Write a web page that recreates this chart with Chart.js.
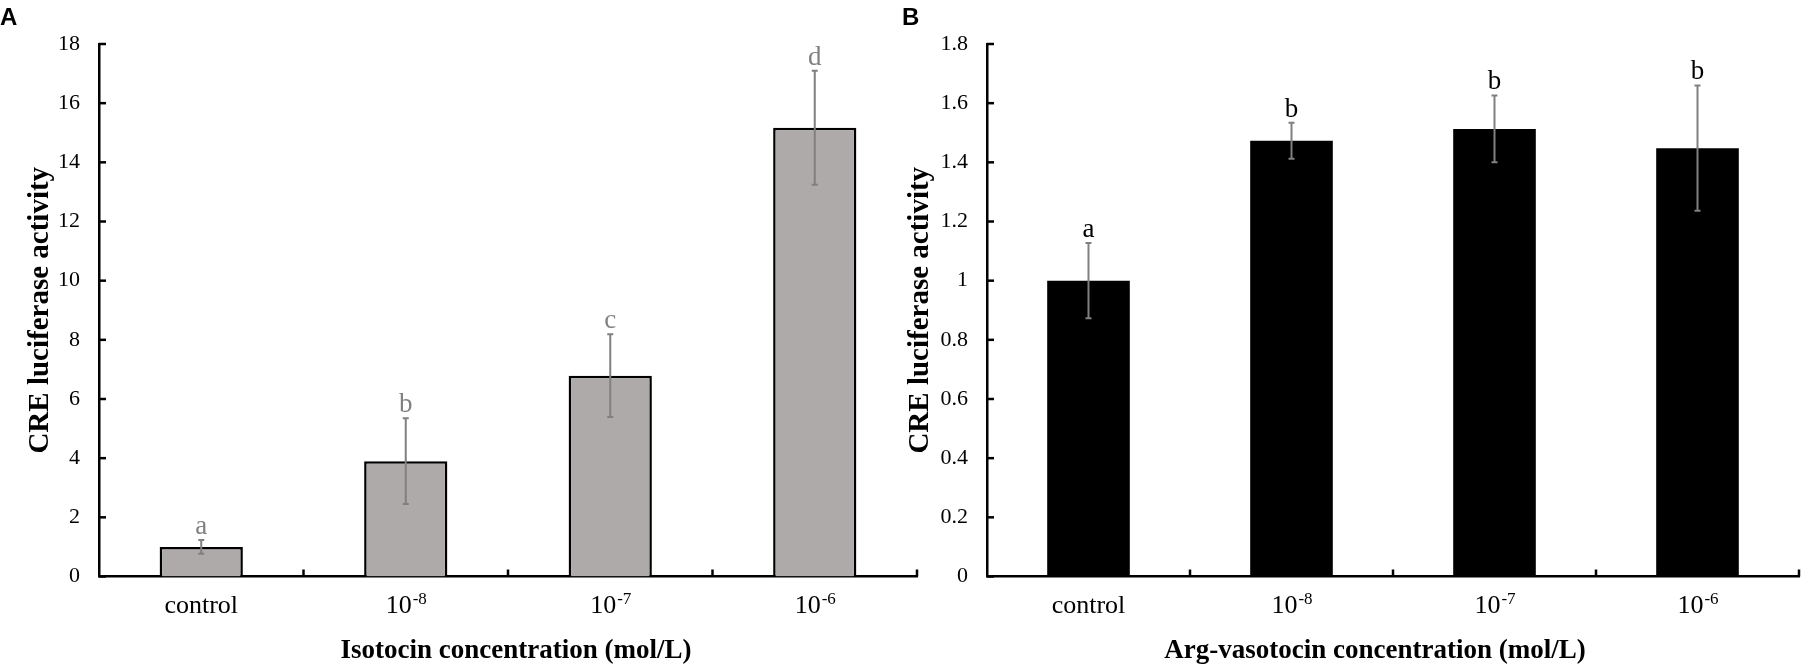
<!DOCTYPE html>
<html>
<head>
<meta charset="utf-8">
<script src="https://cdn.jsdelivr.net/npm/chart.js@4.4.1/dist/chart.umd.min.js"></script>
<style>
  body { margin: 0; background: #fff; }
  #wrap { position: relative; width: 1801px; height: 667px; }
  .panel { position: absolute; top: 0; height: 667px; }
</style>
</head>
<body>
<div id="wrap">
  <div class="panel" style="left:0;width:930px;"><canvas id="chartA"></canvas></div>
  <div class="panel" style="left:880px;width:921px;"><canvas id="chartB"></canvas></div>
</div>
<script>
// categories shared by both panels ("^" marks the superscript part)
var categories = ['control', '10^-8', '10^-7', '10^-6'];

// panel A: isotocin
var isotocinMean = [1.0, 3.9, 6.79, 15.17];
var isotocinErr = [0.23, 1.45, 1.4, 1.93];
var isotocinLetters = ['a', 'b', 'c', 'd'];
var ticksA = [0, 2, 4, 6, 8, 10, 12, 14, 16, 18];

// panel B: arg-vasotocin
var avtMean = [1.0, 1.473, 1.513, 1.448];
var avtErr = [0.127, 0.061, 0.113, 0.212];
var avtLetters = ['a', 'b', 'b', 'b'];
var ticksB = [0, 0.2, 0.4, 0.6, 0.8, 1, 1.2, 1.4, 1.6, 1.8];

var serif = "'Liberation Serif', 'Times New Roman', serif";

// error bars, letters, inward ticks, category labels, x title, panel letter
var extras = {
  id: 'extras',
  afterDatasetsDraw: function(chart, args, opts) {
    var ctx = chart.ctx;
    var x = chart.scales.x, y = chart.scales.y;
    var area = chart.chartArea;
    var meta = chart.getDatasetMeta(0);
    var vals = chart.data.datasets[0].data;
    ctx.save();

    // inward ticks on y axis
    ctx.strokeStyle = '#000';
    ctx.lineWidth = 2.5;
    y.ticks.forEach(function(t) {
      var py = y.getPixelForValue(t.value);
      ctx.beginPath();
      ctx.moveTo(area.left, py);
      ctx.lineTo(area.left + 7, py);
      ctx.stroke();
    });
    // inward ticks on x axis at category boundaries
    for (var i = 0; i < vals.length; i++) {
      var px = (i < vals.length - 1)
        ? (x.getPixelForValue(i) + x.getPixelForValue(i + 1)) / 2
        : area.right;
      ctx.beginPath();
      ctx.moveTo(px, area.bottom);
      ctx.lineTo(px, area.bottom - 7);
      ctx.stroke();
    }

    // error bars + significance letters
    ctx.strokeStyle = '#808080';
    ctx.lineWidth = 2;
    meta.data.forEach(function(bar, i) {
      var top = y.getPixelForValue(vals[i] + opts.err[i]);
      var bot = y.getPixelForValue(vals[i] - opts.err[i]);
      ctx.beginPath();
      ctx.moveTo(bar.x, top); ctx.lineTo(bar.x, bot);
      ctx.moveTo(bar.x - 3, top); ctx.lineTo(bar.x + 3, top);
      ctx.moveTo(bar.x - 3, bot); ctx.lineTo(bar.x + 3, bot);
      ctx.stroke();

      ctx.fillStyle = opts.letterColor;
      ctx.font = '27px ' + serif;
      ctx.textAlign = 'center';
      ctx.textBaseline = 'alphabetic';
      ctx.fillText(opts.letters[i], bar.x, top - 6);
    });

    // category labels with superscript exponents
    ctx.fillStyle = '#000';
    ctx.textAlign = 'left';
    var base = area.bottom + 36.5;
    chart.data.labels.forEach(function(lab, i) {
      var cx = x.getPixelForValue(i);
      var parts = lab.split('^');
      ctx.font = '26px ' + serif;
      var w1 = ctx.measureText(parts[0]).width;
      var w2 = 0;
      if (parts[1]) {
        ctx.font = '17px ' + serif;
        w2 = ctx.measureText(parts[1]).width;
      }
      var sx = cx - (w1 + w2) / 2;
      ctx.font = '26px ' + serif;
      ctx.fillText(parts[0], sx, base);
      if (parts[1]) {
        ctx.font = '17px ' + serif;
        ctx.fillText(parts[1], sx + w1 + 1, base - 9);
      }
    });

    // x axis title
    ctx.font = 'bold 27px ' + serif;
    ctx.textAlign = 'center';
    ctx.fillText(opts.xTitle, (area.left + area.right) / 2 + opts.titleShift, 658);

    // panel letter
    ctx.font = "bold 24px 'Liberation Sans', Arial, sans-serif";
    ctx.textAlign = 'left';
    ctx.fillText(opts.panel, opts.panelX, 25);
    ctx.restore();
  }
};

function makeChart(id, values, fill, border, ticks, yWidth, padRight, xTitle, titleShift, err, letters, letterColor, panel, panelX) {
  return new Chart(document.getElementById(id), {
    type: 'bar',
    data: {
      labels: categories,
      datasets: [{
        data: values,
        backgroundColor: fill,
        borderColor: '#000',
        borderWidth: border,
        categoryPercentage: 1,
        barPercentage: 0.407
      }]
    },
    options: {
      responsive: true,
      maintainAspectRatio: false,
      animation: false,
      layout: { padding: { top: 44, right: padRight, left: 0, bottom: 0 } },
      plugins: {
        legend: { display: false },
        tooltip: { enabled: false },
        extras: {
          err: err, letters: letters, letterColor: letterColor,
          xTitle: xTitle, titleShift: titleShift, panel: panel, panelX: panelX
        }
      },
      scales: {
        x: {
          grid: { display: false, drawTicks: false },
          border: { display: true, color: '#000', width: 2.5 },
          ticks: { display: false },
          afterFit: function(s) { s.height = 90.5; }
        },
        y: {
          min: 0,
          max: ticks[ticks.length - 1],
          grid: { display: false, drawTicks: false },
          border: { display: true, color: '#000', width: 2.5 },
          ticks: {
            color: '#000', padding: 19, font: { family: serif, size: 22 },
            callback: function(v) { return String(v); }
          },
          afterBuildTicks: function(s) { s.ticks = ticks.map(function(v) { return { value: v }; }); },
          title: {
            display: true, text: 'CRE luciferase activity', color: '#000',
            font: { family: serif, size: 29, weight: 'bold' },
            padding: { top: 23, bottom: 0 }
          },
          afterFit: function(s) { s.width = yWidth; }
        }
      }
    },
    plugins: [extras]
  });
}

makeChart('chartA', isotocinMean, '#aeaaaa', 2.5, ticksA, 99, 13,
  'Isotocin concentration (mol/L)', 8, isotocinErr, isotocinLetters, '#808080', 'A', 0);
makeChart('chartB', avtMean, '#000', 0, ticksB, 107, 2,
  'Arg-vasotocin concentration (mol/L)', -18, avtErr, avtLetters, '#000', 'B', 22);
</script>
</body>
</html>
